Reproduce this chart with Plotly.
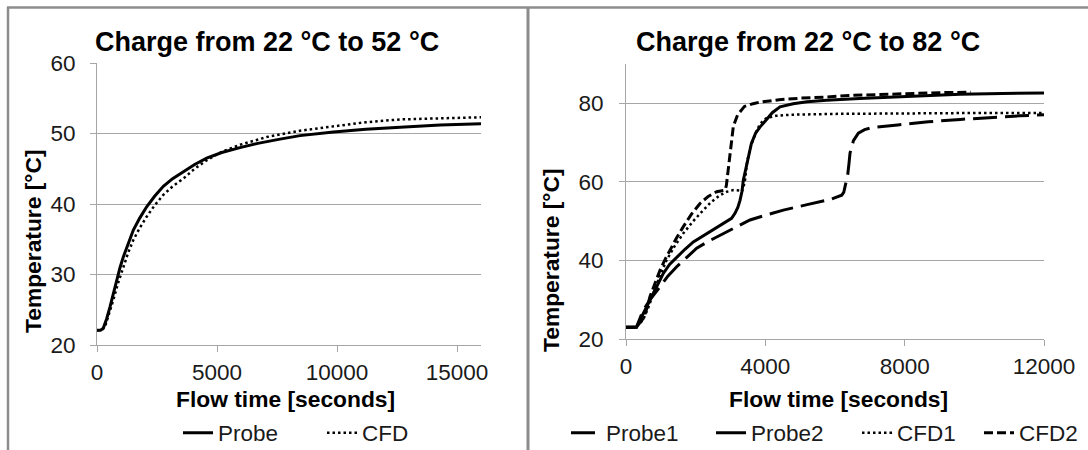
import plotly.graph_objects as go

# ---------------- data: left panel (22 -> 52 °C) ----------------
left_probe_t = [0, 150, 264, 400, 542, 680, 819, 960, 1097, 1300, 1514, 1780, 2069, 2400, 2764,
                3150, 3597, 4069, 4569, 5200, 5958, 6700, 7625, 8460, 9850, 11200, 12635, 14300, 16000]
left_probe_T = [22.1, 22.1, 22.4, 23.7, 25.4, 27.3, 29.2, 31.0, 32.5, 34.5, 36.3, 38.0, 39.6, 41.1, 42.5,
                43.6, 44.6, 45.6, 46.5, 47.3, 48.0, 48.6, 49.2, 49.7, 50.2, 50.6, 50.9, 51.2, 51.4]

left_cfd_t = [0, 200, 333, 500, 681, 880, 1097, 1300, 1514, 1780, 2069, 2400, 2764, 3150, 3597,
              4069, 4569, 5200, 5958, 7070, 8460, 9850, 11200, 12635, 14300, 16000]
left_cfd_T = [22.1, 22.1, 22.6, 24.3, 26.4, 28.8, 31.1, 33.1, 34.9, 36.6, 38.2, 39.8, 41.3, 42.5, 43.6,
              45.0, 46.2, 47.4, 48.4, 49.5, 50.4, 51.0, 51.6, 52.0, 52.2, 52.3]

# ---------------- data: right panel (22 -> 82 °C) ----------------
probe1_t = [0, 300, 497, 730, 976, 1200, 1455, 1750, 2029, 2350, 2699, 3100, 3560, 4000, 4517, 5200,
            5857, 6193, 6250, 6288, 6330, 6365, 6400, 6431, 6530, 6670, 6850, 7052, 7800, 8679,
            9600, 10593, 11300, 12000]
probe1_T = [23.0, 23.0, 27.4, 30.5, 33.3, 36.0, 38.4, 40.9, 43.1, 44.8, 46.4, 48.4, 50.3, 51.5, 52.8, 54.2,
            55.5, 56.6, 57.3, 58.8, 60.2, 61.8, 64.5, 67.3, 70.5, 72.4, 73.3, 73.8, 74.5, 75.3,
            75.9, 76.5, 76.8, 77.1]

probe2_t = [0, 300, 497, 640, 784, 930, 1071, 1250, 1455, 1700, 1933, 2170, 2411, 2650, 2890, 3030,
            3129, 3210, 3273, 3330, 3368, 3440, 3512, 3600, 3720, 3850, 4030, 4200, 4421, 4800,
            5200, 5761, 6700, 7675, 8600, 9588, 10800, 12000]
probe2_T = [23.0, 23.0, 26.5, 29.0, 31.6, 34.3, 36.7, 39.0, 40.9, 42.9, 44.7, 46.0, 47.3, 48.5, 49.8, 50.7,
            52.0, 53.5, 55.3, 57.6, 60.4, 63.5, 66.5, 69.8, 72.4, 74.0, 75.8, 77.6, 79.1, 79.9,
            80.4, 80.8, 81.2, 81.6, 82.0, 82.3, 82.5, 82.6]

cfd1_t = [0, 300, 500, 650, 784, 970, 1168, 1400, 1646, 1930, 2220, 2450, 2699, 2900, 3081, 3250,
          3321, 3370, 3416, 3483, 3600, 3720, 3850, 4030, 4300, 4750, 6000, 7350, 9500, 12000]
cfd1_T = [23.0, 23.0, 25.0, 28.2, 31.6, 36.0, 40.1, 43.7, 46.9, 50.0, 52.8, 54.9, 56.6, 57.5, 57.9, 57.8,
          57.5, 58.5, 60.4, 65.5, 69.5, 72.4, 74.8, 76.2, 76.8, 77.1, 77.3, 77.4, 77.5, 77.5]

cfd2_t = [0, 300, 500, 600, 689, 830, 976, 1120, 1263, 1450, 1646, 1880, 2124, 2360, 2603, 2750,
          2842, 2880, 2909, 2940, 2967, 3000, 3081, 3200, 3400, 3650, 3847, 4400, 5000, 5761,
          6400, 7200, 8152, 9000, 9900]
cfd2_T = [23.0, 23.0, 25.3, 27.8, 30.8, 34.3, 37.5, 40.2, 42.6, 45.7, 48.6, 51.8, 54.5, 56.3, 57.5, 57.8,
          57.9, 59.0, 61.3, 63.5, 65.5, 69.0, 74.1, 77.0, 79.2, 79.9, 80.3, 80.9, 81.3, 81.6,
          82.0, 82.2, 82.5, 82.7, 82.8]

left_xticks = [0, 5000, 10000, 15000]
left_yticks = [20, 30, 40, 50, 60]
right_xticks = [0, 4000, 8000, 12000]
right_yticks = [20, 40, 60, 80]

titles = ["Charge from 22 °C to 52 °C", "Charge from 22 °C to 82 °C"]
xlabel = "Flow time [seconds]"
ylabel = "Temperature [°C]"

# ---------------- styling ----------------
FONT = "Liberation Sans, Arial, sans-serif"
W, H = 1088, 450
BLACK = "#000000"
GRID = "#a6a6a6"
TXT = "#1a1a1a"


def px_x(p):
    return p / W


def px_y(p):
    return 1 - p / H


fig = go.Figure()

series = [
    # name, x, y, axis suffix, width, dash, legend id, legend text start (px)
    ("Probe", left_probe_t, left_probe_T, "", 3, "solid", "legend", 218),
    ("CFD", left_cfd_t, left_cfd_T, "", 2.5, "2.5px,3px", "legend2", 362),
    ("Probe1", probe1_t, probe1_T, "2", 3, "24px,8px", "legend3", 606),
    ("Probe2", probe2_t, probe2_T, "2", 3, "solid", "legend4", 751),
    ("CFD1", cfd1_t, cfd1_T, "2", 2.5, "2.5px,3px", "legend5", 897),
    ("CFD2", cfd2_t, cfd2_T, "2", 3, "9px,4px", "legend6", 1019),
]

legend_layout = {}
for name, xs, ys, ax, lw, dash, lg, text_x in series:
    fig.add_trace(go.Scatter(x=xs, y=ys, mode="lines", name=name,
                             line=dict(color=BLACK, width=lw, dash=dash),
                             xaxis="x" + ax, yaxis="y" + ax, legend=lg))
    legend_layout[lg] = dict(orientation="h", x=px_x(text_x - 40), y=px_y(433),
                             xanchor="left", yanchor="middle",
                             font=dict(family=FONT, size=22.5, color=TXT),
                             bgcolor="rgba(0,0,0,0)", itemclick=False, itemdoubleclick=False)

axis_common = dict(showline=True, linecolor=GRID, linewidth=1, gridcolor=GRID,
                   gridwidth=1, ticks="outside", ticklen=6, tickcolor=GRID, zeroline=False,
                   tickfont=dict(family=FONT, size=22.5, color=TXT), fixedrange=True,
                   automargin=False, tickformat="d")

fig.update_layout(
    width=W, height=H,
    margin=dict(l=0, r=0, t=0, b=0, autoexpand=False),
    paper_bgcolor="white", plot_bgcolor="white",
    xaxis=dict(domain=[px_x(97), px_x(481)], range=[0, 16000], tickvals=left_xticks,
               anchor="y", showgrid=False, ticklabelstandoff=1, **axis_common),
    yaxis=dict(domain=[px_y(345), px_y(63)], range=[20, 60], tickvals=left_yticks,
               anchor="x", showgrid=True, ticklabelstandoff=10, **axis_common),
    xaxis2=dict(domain=[px_x(626), px_x(1044)], range=[0, 12000], tickvals=right_xticks,
                anchor="y2", showgrid=False, ticklabelstandoff=1, **axis_common),
    yaxis2=dict(domain=[px_y(339), px_y(64)], range=[20, 90], tickvals=right_yticks,
                anchor="x2", showgrid=True, ticklabelstandoff=11, **axis_common),
    showlegend=True,
    **legend_layout,
)

bold = dict(family=FONT, color=BLACK, weight="bold")
annotations = [
    dict(text=titles[0], x=px_x(267), y=px_y(42), font=dict(size=27, **bold)),
    dict(text=titles[1], x=px_x(808), y=px_y(42), font=dict(size=27, **bold)),
    dict(text=xlabel, x=px_x(285), y=px_y(399), font=dict(size=22.8, **bold)),
    dict(text=xlabel, x=px_x(838), y=px_y(399), font=dict(size=22.8, **bold)),
    dict(text=ylabel, x=px_x(33), y=px_y(241), textangle=-90, font=dict(size=22.8, **bold)),
    dict(text=ylabel, x=px_x(551), y=px_y(260), textangle=-90, font=dict(size=22.8, **bold)),
]
for a in annotations:
    a.update(xref="paper", yref="paper", showarrow=False, xanchor="center", yanchor="middle")
fig.update_layout(annotations=annotations)

# chart-area borders (gray frame lines)
BORDER = "#8c8c8c"
fig.update_layout(shapes=[
    dict(type="line", xref="paper", yref="paper", x0=px_x(7), x1=1, y0=px_y(7.5), y1=px_y(7.5),
         line=dict(color=BORDER, width=2.5)),
    dict(type="line", xref="paper", yref="paper", x0=px_x(8), x1=px_x(8), y0=px_y(7), y1=0,
         line=dict(color=BORDER, width=2.5)),
    dict(type="line", xref="paper", yref="paper", x0=px_x(528), x1=px_x(528), y0=px_y(7), y1=0,
         line=dict(color=BORDER, width=3)),
])

# remove the browser's default page margin so the figure sits at the window's top-left corner
fig.write_html("out.html", config={"displayModeBar": False},
               post_script="document.body.style.margin='0px';")
